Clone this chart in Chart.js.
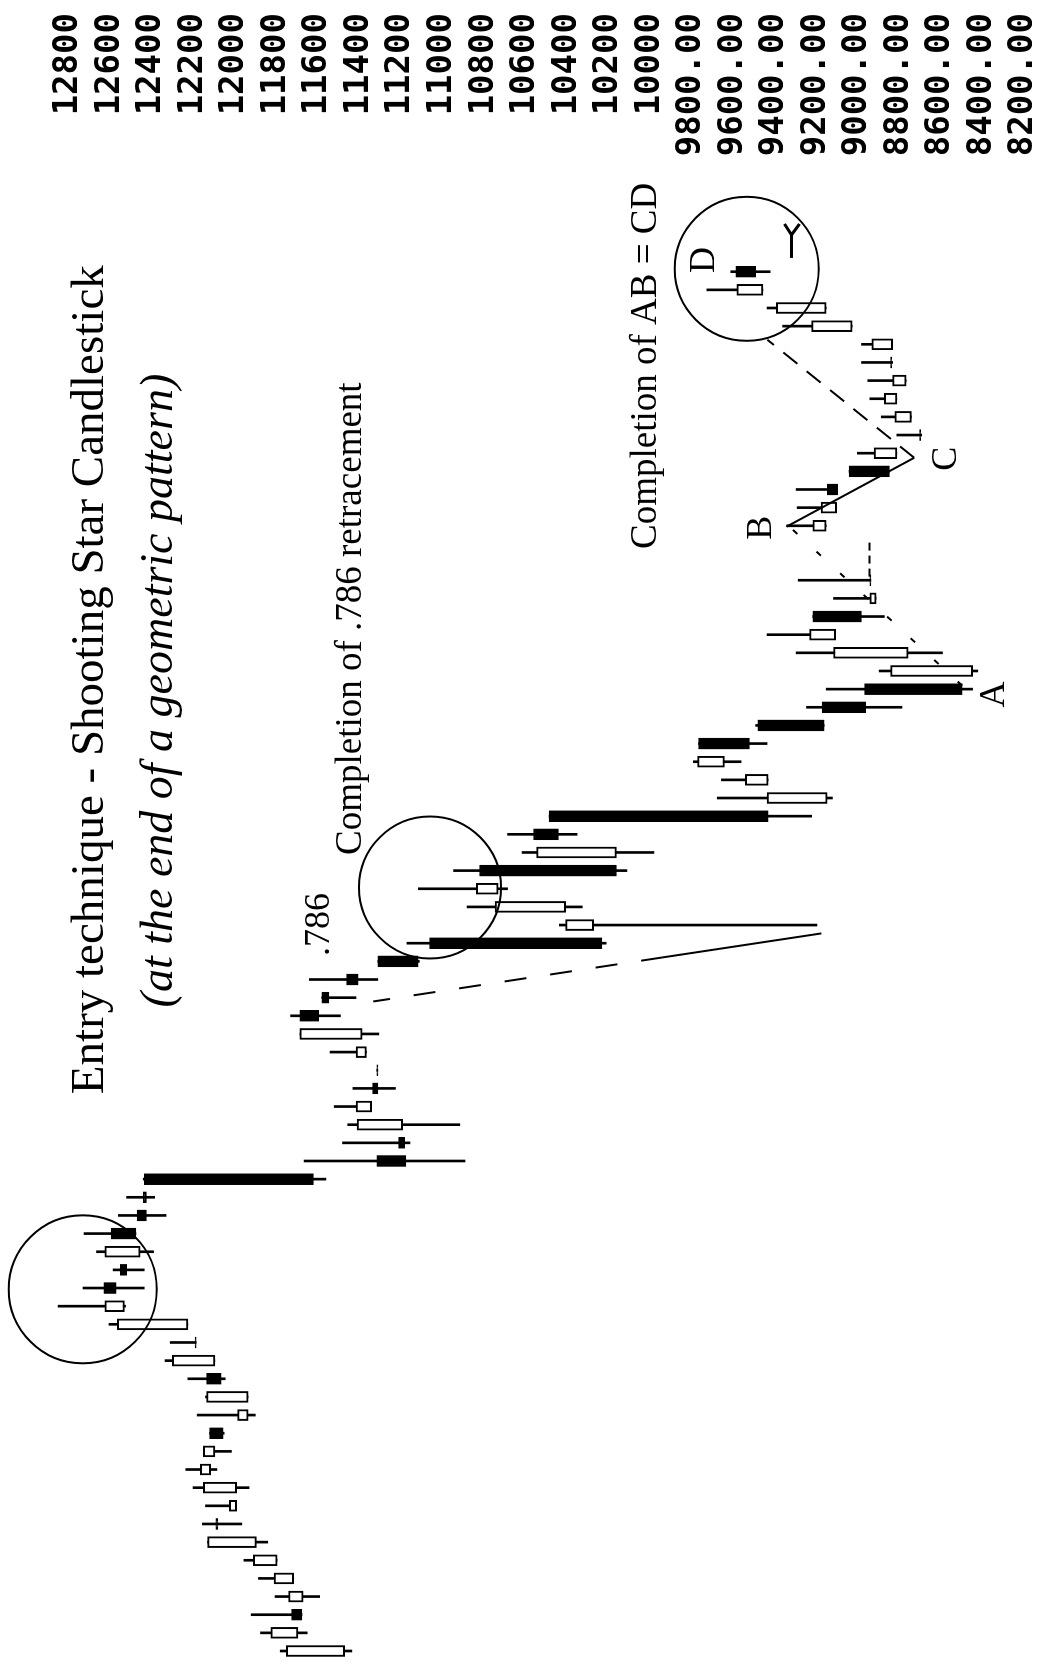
<!DOCTYPE html>
<html>
<head>
<meta charset="utf-8">
<title>Entry technique - Shooting Star Candlestick</title>
<script src="https://cdn.jsdelivr.net/npm/chart.js@4.4.1/dist/chart.umd.min.js"></script>
<style>
  html, body { margin: 0; padding: 0; background: #fff; }
  body { width: 1056px; height: 1666px; overflow: hidden; position: relative; }
  /* the chart is drawn landscape and turned a quarter turn, like the book page */
  #wrap { position: absolute; left: 0; top: 0; width: 1666px; height: 1056px;
          transform-origin: 0 0; transform: translate(0, 1666px) rotate(-90deg); }
</style>
</head>
<body>
<div id="wrap"><canvas id="myChart"></canvas></div>
<script>
// one slot per bar, two empty slots (60, 61)
var opens = [11470, 11695, 11725, 11670, 11715, 11795, 11895, 12090, 11990, 11990,
  12115, 12095, 12120, 11935, 11935, 12135, 12095, 12190, 12225, 12530,
  12630, 12550, 12455, 12595, 12470, 12440, 12435, 11315, 11210, 11190,
  11340, 11335, 11315, 11365, 11385, 11685, 11580, 11460, 11310, 11060,
  10270, 10405, 10730, 10820, 10160, 10560, 10485, 9145, 9430, 9640,
  9765, 9480, 9170, 8965, 8445, 8755, 9105, 9215, 8910, 8940,
  null, null, 9150, 9100, 9145, 9040, 8810, 8700, 8740, 8810,
  8765, 8840, 8830, 9025, 9150, 9455, 9585]
var highs = [11780, 11875, 11920, 11805, 11885, 11955, 12130, 12155, 12140, 12200,
  12235, 12150, 12120, 12180, 12140, 12225, 12335, 12310, 12605, 12850,
  12730, 12585, 12665, 12725, 12560, 12520, 12440, 11665, 11480, 11455,
  11520, 11430, 11315, 11540, 11685, 11730, 11580, 11640, 11310, 11170,
  10435, 10880, 11115, 10945, 10615, 10685, 10485, 9675, 9655, 9790,
  9765, 9490, 9245, 9150, 8895, 9295, 9435, 9215, 9115, 9285,
  null, null, 9340, 9290, 9295, 9040, 9000, 8810, 8885, 8940,
  8950, 8980, 8980, 9360, 9435, 9725, 9610]
var lows = [11435, 11650, 11675, 11590, 11715, 11795, 11840, 11965, 11990, 11930,
  12085, 12015, 12050, 11900, 11935, 12045, 12095, 12185, 12225, 12525,
  12435, 12435, 12390, 12475, 12330, 12385, 11560, 10890, 11155, 10915,
  11340, 11225, 11310, 11365, 11305, 11490, 11415, 11310, 11110, 10210,
  9195, 10325, 10685, 10110, 9980, 10350, 9220, 9120, 9430, 9560,
  9435, 9160, 8785, 8445, 8420, 8590, 9105, 8870, 8910, 8935,
  null, null, 9150, 9100, 9095, 8845, 8810, 8690, 8740, 8810,
  8765, 8830, 8830, 9025, 9150, 9455, 9420]
var closes = [11750, 11825, 11675, 11740, 11810, 11910, 12130, 12080, 12025, 12150,
  12165, 12150, 12055, 11985, 12135, 12065, 12300, 12185, 12565, 12625,
  12570, 12520, 12625, 12475, 12425, 12425, 11620, 11175, 11180, 11410,
  11415, 11310, 11310, 11415, 11685, 11595, 11545, 11405, 11115, 10230,
  10405, 10745, 10835, 10160, 10545, 10440, 9430, 9435, 9540, 9770,
  9520, 9160, 8960, 8495, 8840, 9115, 9230, 8980, 8940, 8935,
  null, null, 9215, 9175, 9095, 8845, 8920, 8695, 8820, 8870,
  8830, 8835, 8930, 9220, 9390, 9580, 9490]

var tickValues = [12800, 12600, 12400, 12200, 12000, 11800, 11600, 11400, 11200, 11000,
  10800, 10600, 10400, 10200, 10000, 9800, 9600, 9400, 9200, 9000, 8800, 8600, 8400, 8200]
var tickLabels = ["12800", "12600", "12400", "12200", "12000", "11800", "11600", "11400", "11200", "11000",
  "10800", "10600", "10400", "10200", "10000", "9800.00", "9600.00", "9400.00", "9200.00", "9000.00",
  "8800.00", "8600.00", "8400.00", "8200.00"]

// drawn lines: [slot, price] pairs
var retraceSolid = [[39.54, 9173], [38.22, 9937]]
var retraceDash = [[38.22, 9937], [35.79, 11332]]
var abLine = [[53.19, 8495], [61.95, 9327]]
var bcLine = [[61.95, 9341], [65.75, 8726]]
var cdLine = [[65.75, 8726], [72.25, 9433]]
var levelLine = [[59.2, 8942], [61.34, 8942]]

// circles: slot, price, radius
var circles = [[76.16, 9533, 72], [42.07, 11058, 71], [19.93, 12731, 74]]

// texts: text, slot, price, font
var notes = [
  ["Entry technique - Shooting Star Candlestick", 53.52, 12692, '47px "Liberation Serif"'],
  ["(at the end of a geometric pattern)", 52.92, 12361, 'italic 46px "Liberation Serif"'],
  ["Completion of .786 retracement", 56.88, 11437, '37px "Liberation Serif"'],
  ["Completion of AB = CD", 70.81, 10019, '37px "Liberation Serif"'],
  [".786", 40.03, 11591, '36px "Liberation Serif"'],
  ["D", 76.65, 9735, '36px "Liberation Serif"'],
  ["B", 61.89, 9461, '36px "Liberation Serif"'],
  ["C", 65.69, 8572, '36px "Liberation Serif"'],
  ["A", 52.70, 8341, '36px "Liberation Serif"']
]

var bodies = []
var bodyColors = []
var wicks = []
for (let i = 0; i < opens.length; i++) {
  if (opens[i] === null) continue
  bodies.push({ x: i, y: [opens[i], closes[i]] })
  bodyColors.push(closes[i] < opens[i] ? "#000" : "#fff")
  wicks.push({ x: i, y: [lows[i], highs[i]] })
}

function toPts(arr) {
  return arr.map(p => ({ x: p[0], y: p[1] }))
}

function lineSet(arr, dash) {
  return {
    type: "line",
    data: toPts(arr),
    borderColor: "#000",
    borderWidth: 2,
    borderDash: dash,
    pointRadius: 0,
    fill: false
  }
}

const notesPlugin = {
  id: "notes",
  afterDraw(chart) {
    const ctx = chart.ctx
    const xs = chart.scales.x
    const ys = chart.scales.y
    ctx.save()
    ctx.strokeStyle = "#000"
    ctx.lineWidth = 2
    circles.forEach(c => {
      ctx.beginPath()
      ctx.arc(xs.getPixelForValue(c[0]), ys.getPixelForValue(c[1]), c[2], 0, Math.PI * 2)
      ctx.stroke()
    })
    // the little arrow marker above D
    const ax = xs.getPixelForValue(76.76)
    const ax2 = xs.getPixelForValue(78.19)
    const ay = ys.getPixelForValue(9317)
    ctx.lineWidth = 3
    ctx.beginPath()
    ctx.moveTo(ax, ay)
    ctx.lineTo(ax2, ay)
    ctx.moveTo(xs.getPixelForValue(78.03), ay)
    ctx.lineTo(xs.getPixelForValue(78.63), ys.getPixelForValue(9351))
    ctx.moveTo(xs.getPixelForValue(78.03), ay)
    ctx.lineTo(xs.getPixelForValue(78.63), ys.getPixelForValue(9279))
    ctx.stroke()
    ctx.fillStyle = "#000"
    ctx.textAlign = "center"
    ctx.textBaseline = "middle"
    notes.forEach(n => {
      ctx.font = n[3]
      ctx.fillText(n[0], xs.getPixelForValue(n[1]), ys.getPixelForValue(n[2]))
    })
    ctx.restore()
  }
}

new Chart("myChart", {
  type: "bar",
  data: {
    datasets: [
      lineSet(retraceSolid, []),
      lineSet(retraceDash, [22, 24]),
      lineSet(abLine, [6, 26]),
      lineSet(bcLine, []),
      lineSet(cdLine, [18, 12]),
      lineSet(levelLine, [8, 5]),
      {
        data: bodies,
        backgroundColor: bodyColors,
        borderColor: "#000",
        borderWidth: 2,
        borderSkipped: false,
        barThickness: 11,
        grouped: false
      },
      {
        data: wicks,
        backgroundColor: "#000",
        borderWidth: 0,
        barThickness: 2,
        grouped: false
      }
    ]
  },
  options: {
    responsive: true,
    maintainAspectRatio: false,
    devicePixelRatio: 1,
    animation: false,
    layout: { padding: { top: 0, bottom: 0, left: 0, right: 13 } },
    plugins: {
      legend: { display: false },
      tooltip: { enabled: false }
    },
    scales: {
      x: {
        type: "linear",
        display: false,
        offset: false,
        min: -0.771,
        max: 82.10
      },
      y: {
        position: "right",
        min: 8048,
        max: 13125,
        grid: { display: false, drawTicks: false },
        border: { display: false },
        afterBuildTicks: s => { s.ticks = tickValues.map(v => ({ value: v })) },
        afterFit: s => {
          s.width = 148
          // price scale has to run over the full height
          s.paddingTop = 0
          s.paddingBottom = 0
        },
        ticks: {
          autoSkip: false,
          padding: 0,
          crossAlign: "far",
          color: "#000",
          font: { family: "DejaVu Sans Mono", size: 34, weight: "bold" },
          callback: (v, i) => tickLabels[i]
        }
      }
    }
  },
  plugins: [notesPlugin]
})
</script>
</body>
</html>
